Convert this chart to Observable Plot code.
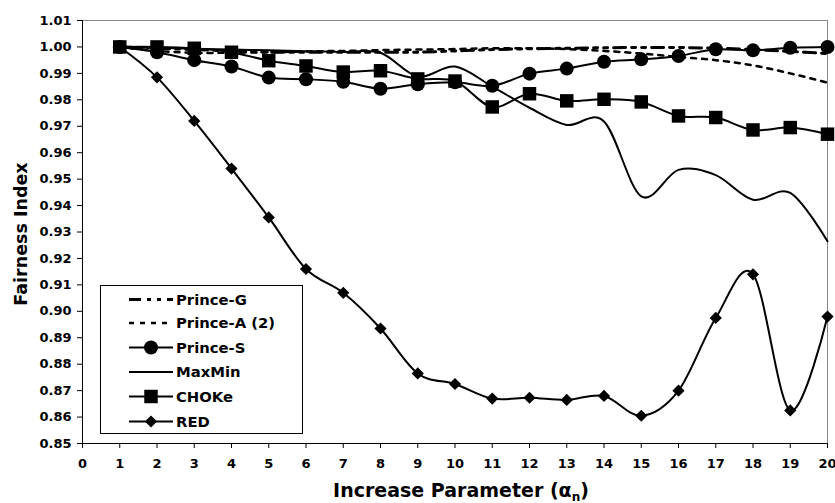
<!DOCTYPE html>
<html><head><meta charset="utf-8">
<script src="https://cdn.jsdelivr.net/npm/d3@7"></script>
<script src="https://cdn.jsdelivr.net/npm/@observablehq/plot@0.6"></script>
<style>
body{margin:0;background:#fff;}
#chart{position:relative;width:835px;height:503px;}
</style>
</head><body><div id="chart"></div>
<script>
// ---- data ----
const alpha = [1,2,3,4,5,6,7,8,9,10,11,12,13,14,15,16,17,18,19,20];
const xTicks = [0,1,2,3,4,5,6,7,8,9,10,11,12,13,14,15,16,17,18,19,20];
const yTicks = [0.85,0.86,0.87,0.88,0.89,0.90,0.91,0.92,0.93,0.94,0.95,0.96,0.97,0.98,0.99,1.00,1.01];
const seriesNames = ["Prince-G","Prince-A (2)","Prince-S","MaxMin","CHOKe","RED"];
const princeG = [1.000,0.9995,0.999,0.9985,0.998,0.998,0.998,0.998,0.998,0.9985,0.999,0.9993,0.9995,0.9997,0.9998,0.9998,0.9995,0.999,0.9983,0.9975];
const princeA = [1.000,0.9985,0.9978,0.9978,0.998,0.9983,0.9985,0.9988,0.999,0.9992,0.9995,0.9995,0.9992,0.9985,0.9975,0.9962,0.995,0.993,0.990,0.9865];
const princeS = [1.000,0.9980,0.9950,0.9926,0.9884,0.9878,0.9868,0.9842,0.9859,0.9866,0.9853,0.9899,0.9918,0.9944,0.9953,0.9966,0.9991,0.9987,0.9997,1.000];
const maxMin  = [1.000,0.9997,0.9993,0.9990,0.9987,0.9984,0.9981,0.9978,0.9888,0.9926,0.9850,0.9770,0.9705,0.9718,0.9435,0.9535,0.9515,0.9422,0.9448,0.9265];
const choke   = [1.000,1.000,0.9995,0.998,0.9948,0.9928,0.9905,0.991,0.9879,0.9871,0.9773,0.9823,0.9796,0.9802,0.9792,0.9739,0.9733,0.9686,0.9695,0.967];
const red     = [1.000,0.9885,0.972,0.954,0.9355,0.916,0.907,0.8935,0.8765,0.8725,0.867,0.8673,0.8665,0.868,0.8605,0.870,0.8975,0.914,0.8625,0.898];

const font = "'DejaVu Sans', sans-serif";
const rows = vals => alpha.map((a, i) => ({a, v: vals[i]}));
const L = {x: "a", y: "v", curve: "cardinal", tension: 0, stroke: "#000"};
const dashG = "12,6,4,6,4,6";
const dashA = "5,6";

const plot = Plot.plot({
  width: 835, height: 503,
  marginLeft: 82, marginRight: 8, marginTop: 20, marginBottom: 60,
  style: {fontFamily: font, fontSize: "13px", fontWeight: "bold", color: "#000", background: "#fff", overflow: "visible"},
  x: {domain: [0, 20]},
  y: {domain: [0.85, 1.01]},
  marks: [
    Plot.ruleY([1.01], {stroke: "#888", strokeWidth: 1}),
    Plot.ruleX([20], {stroke: "#888", strokeWidth: 1}),
    Plot.axisX({ticks: xTicks, tickSize: 5, tickPadding: 10, label: null, tickFormat: d => String(d), stroke: "#000", fontSize: 13}),
    Plot.axisY({ticks: yTicks, tickSize: 5, tickPadding: 6, label: null, tickFormat: d3.format(".2f"), stroke: "#000", fontSize: 13}),
    Plot.ruleX([0], {stroke: "#000", strokeWidth: 1}),
    Plot.ruleY([0.85], {stroke: "#000", strokeWidth: 1}),
    Plot.line(rows(princeG), {...L, strokeWidth: 3, strokeDasharray: dashG}),
    Plot.line(rows(princeA), {...L, strokeWidth: 2.5, strokeDasharray: dashA}),
    Plot.line(rows(maxMin), {...L, strokeWidth: 2}),
    Plot.line(rows(choke), {...L, strokeWidth: 2}),
    Plot.dot(rows(choke), {x: "a", y: "v", symbol: "square", r: 7.6, fill: "#000"}),
    Plot.line(rows(princeS), {...L, strokeWidth: 2}),
    Plot.dot(rows(princeS), {x: "a", y: "v", symbol: "circle", r: 7, fill: "#000"}),
    Plot.line(rows(red), {...L, strokeWidth: 2}),
    Plot.dot(rows(red), {x: "a", y: "v", symbol: "diamond2", r: 5.5, fill: "#000"})
  ]
});
document.getElementById("chart").appendChild(plot);

const svg = d3.select(plot);
// axis titles
const xt = svg.append("text").attr("x", 461).attr("y", 497).attr("text-anchor", "middle")
  .attr("font-family", font).attr("font-weight", "bold").attr("font-size", 19).attr("fill", "#000");
xt.append("tspan").text("Increase Parameter (\u03B1");
xt.append("tspan").text("n").attr("font-size", 12).attr("dy", 4);
xt.append("tspan").text(")").attr("dy", -4);

svg.append("text").attr("transform", "translate(26.5,234) rotate(-90)").attr("text-anchor", "middle")
  .attr("font-family", font).attr("font-weight", "bold").attr("font-size", 17.5).attr("fill", "#000")
  .text("Fairness Index");

// legend
const lg = svg.append("g");
lg.append("rect").attr("x", 100.5).attr("y", 285.5).attr("width", 202).attr("height", 148)
  .attr("fill", "#fff").attr("stroke", "#000").attr("stroke-width", 1);
const rowY = [299.5, 323, 347.5, 372, 396.5, 421.5];
const styles = [
  {dash: dashG, w: 3, sym: null},
  {dash: dashA, w: 2.5, sym: null},
  {dash: null, w: 2, sym: d3.symbolCircle, size: Math.PI * 49},
  {dash: null, w: 2, sym: null},
  {dash: null, w: 2, sym: d3.symbolSquare, size: Math.PI * 7.6 * 7.6},
  {dash: null, w: 2, sym: d3.symbolDiamond2, size: Math.PI * 5.5 * 5.5}
];
seriesNames.forEach((name, i) => {
  const s = styles[i], y = rowY[i];
  const ln = lg.append("line").attr("x1", 129).attr("x2", 173).attr("y1", y).attr("y2", y)
    .attr("stroke", "#000").attr("stroke-width", s.w);
  if (s.dash) ln.attr("stroke-dasharray", s.dash);
  if (s.sym) lg.append("path").attr("d", d3.symbol(s.sym, s.size)()).attr("transform", `translate(151,${y})`).attr("fill", "#000");
  lg.append("text").attr("x", 176).attr("y", y).attr("dy", "0.36em").attr("text-anchor", "start")
    .attr("font-family", font).attr("font-weight", "bold").attr("font-size", 14.8).attr("fill", "#000")
    .text(name);
});
</script>
</body></html>
